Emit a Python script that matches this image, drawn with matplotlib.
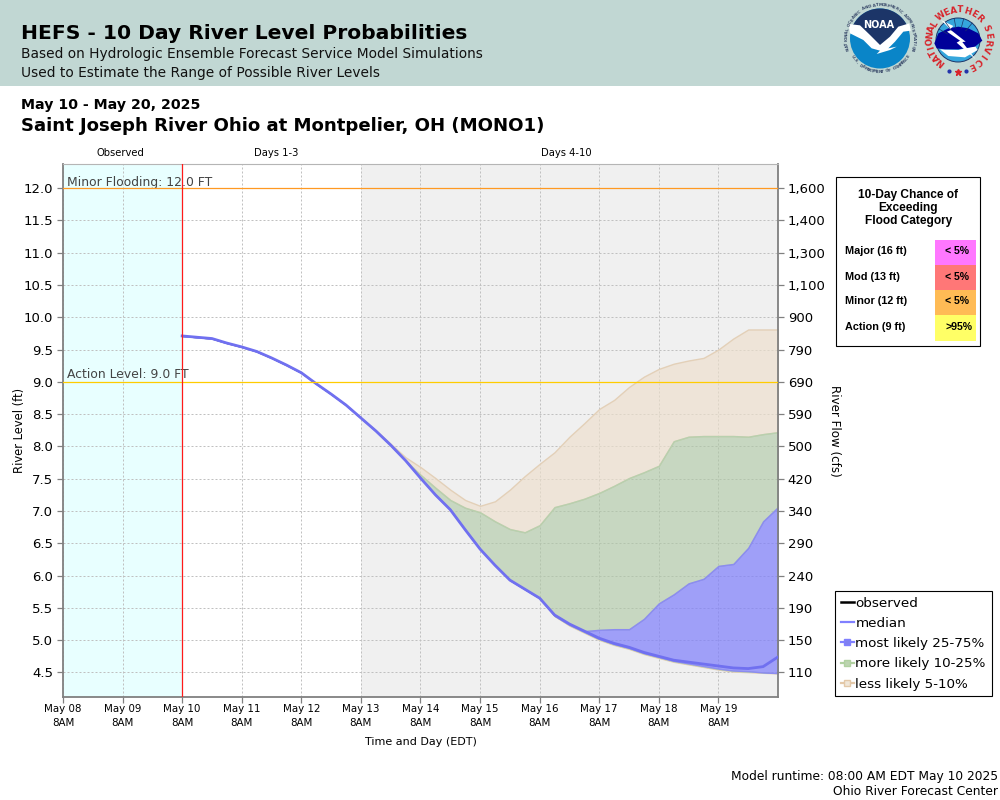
import numpy as np
import pandas as pd
import matplotlib
matplotlib.use('Agg')
import matplotlib.pyplot as plt
from matplotlib.lines import Line2D
from matplotlib.patches import Circle, Polygon, Rectangle, Wedge

# forecast levels in ft, every 6 hours from May 10 8AM
median = [9.71, 9.69, 9.67, 9.60, 9.54, 9.47, 9.37, 9.26, 9.14, 8.97, 8.81, 8.64, 8.44, 8.24,
          8.02, 7.78, 7.51, 7.25, 7.02, 6.71, 6.41, 6.16, 5.93, 5.79, 5.65, 5.39, 5.25, 5.14,
          5.03, 4.95, 4.89, 4.81, 4.75, 4.69, 4.66, 4.63, 4.60, 4.57, 4.56, 4.59, 4.74]
q75 = [9.71, 9.69, 9.67, 9.60, 9.54, 9.47, 9.37, 9.26, 9.14, 8.97, 8.81, 8.64, 8.44, 8.24,
       8.02, 7.78, 7.51, 7.25, 7.02, 6.71, 6.41, 6.16, 5.93, 5.79, 5.65, 5.39, 5.25, 5.14,
       5.16, 5.17, 5.17, 5.33, 5.57, 5.71, 5.88, 5.95, 6.15, 6.18, 6.43, 6.84, 7.06]
q25 = [9.71, 9.69, 9.67, 9.60, 9.54, 9.47, 9.37, 9.26, 9.14, 8.97, 8.81, 8.64, 8.44, 8.24,
       8.02, 7.78, 7.51, 7.25, 7.02, 6.71, 6.41, 6.16, 5.93, 5.79, 5.65, 5.38, 5.24, 5.13,
       5.02, 4.94, 4.88, 4.80, 4.74, 4.68, 4.64, 4.60, 4.56, 4.53, 4.52, 4.50, 4.49]
q90 = [9.71, 9.69, 9.67, 9.60, 9.54, 9.47, 9.37, 9.26, 9.14, 8.97, 8.81, 8.64, 8.44, 8.24,
       8.02, 7.78, 7.56, 7.36, 7.17, 7.05, 6.98, 6.84, 6.72, 6.67, 6.78, 7.06, 7.12, 7.19,
       7.28, 7.39, 7.51, 7.60, 7.70, 8.08, 8.15, 8.16, 8.16, 8.16, 8.15, 8.19, 8.22]
q95 = [9.71, 9.69, 9.67, 9.60, 9.54, 9.47, 9.37, 9.26, 9.14, 8.97, 8.81, 8.64, 8.44, 8.25,
       8.04, 7.83, 7.68, 7.51, 7.33, 7.17, 7.08, 7.15, 7.33, 7.54, 7.73, 7.91, 8.15, 8.36,
       8.58, 8.72, 8.92, 9.08, 9.20, 9.28, 9.33, 9.37, 9.50, 9.67, 9.81, 9.81, 9.81]
q10 = [9.71, 9.69, 9.67, 9.60, 9.54, 9.47, 9.37, 9.26, 9.14, 8.97, 8.81, 8.64, 8.44, 8.24,
       8.02, 7.78, 7.51, 7.25, 7.02, 6.71, 6.41, 6.16, 5.93, 5.79, 5.65, 5.37, 5.23, 5.12,
       5.01, 4.93, 4.87, 4.79, 4.73, 4.67, 4.63, 4.59, 4.55, 4.52, 4.51, 4.50, 4.49]
q05 = [9.71, 9.69, 9.67, 9.60, 9.54, 9.47, 9.37, 9.26, 9.14, 8.97, 8.81, 8.64, 8.44, 8.24,
       8.02, 7.78, 7.51, 7.25, 7.02, 6.71, 6.41, 6.16, 5.93, 5.79, 5.65, 5.37, 5.22, 5.11,
       5.00, 4.92, 4.86, 4.78, 4.72, 4.66, 4.62, 4.58, 4.54, 4.51, 4.50, 4.49, 4.48]

level_ticks = [12.0, 11.5, 11.0, 10.5, 10.0, 9.5, 9.0, 8.5, 8.0, 7.5, 7.0, 6.5, 6.0, 5.5, 5.0, 4.5]
flow_labels = ['1,600', '1,400', '1,300', '1,100', '900', '790', '690', '590',
               '500', '420', '340', '290', '240', '190', '150', '110']

categories = ['Major (16 ft)', 'Mod (13 ft)', 'Minor (12 ft)', 'Action (9 ft)']
chances = ['< 5%', '< 5%', '< 5%', '>95%']
category_colors = ['#ff77ff', '#ff7777', '#ffbb55', '#ffff66']

times = pd.date_range('2025-05-10 08:00', periods=41, freq='6h')
day_ticks = pd.date_range('2025-05-08 08:00', '2025-05-19 08:00', freq='1D')

fig = plt.figure(figsize=(10, 8), dpi=100, facecolor='white')

# overlay in pixel coordinates for the header and the side boxes
bg = fig.add_axes([0, 0, 1, 1], zorder=0)
bg.set_xlim(0, 1000)
bg.set_ylim(800, 0)
bg.axis('off')
bg.add_patch(Rectangle((0, 0), 1000, 85.5, fc='#c1d7d3', ec='none'))

bg.text(21, 33.5, 'HEFS - 10 Day River Level Probabilities', fontsize=14.6, fontweight='bold',
        color='black', va='center')
bg.text(21, 54, 'Based on Hydrologic Ensemble Forecast Service Model Simulations', fontsize=9.95,
        color='#111111', va='center')
bg.text(21, 73, 'Used to Estimate the Range of Possible River Levels', fontsize=9.95,
        color='#111111', va='center')
bg.text(21, 105, 'May 10 - May 20, 2025', fontsize=10.15, fontweight='bold', va='center')
bg.text(21, 126, 'Saint Joseph River Ohio at Montpelier, OH (MONO1)', fontsize=13.07, fontweight='bold',
        va='center')
bg.text(998, 776.5, 'Model runtime: 08:00 AM EDT May 10 2025', fontsize=8.8, ha='right', va='center')
bg.text(998, 791.5, 'Ohio River Forecast Center', fontsize=8.8, ha='right', va='center')


def ring_text(cx, cy, r, s, start, end, size, color, bottom=False):
    for a, ch in zip(np.linspace(start, end, len(s)), s):
        t = np.radians(a)
        bg.text(cx + r * np.cos(t), cy - r * np.sin(t), ch, fontsize=size, color=color, ha='center',
                va='center', rotation=a + 90 if bottom else a - 90, fontweight='bold')


def crop_pts(x0, pts):
    return [(x0 + x / 3, y / 3) for x, y in pts]


# NOAA logo
nx, ny = 880, 38.5
bg.add_patch(Circle((nx, ny), 30, fc='#0a85c8', ec='none'))
cap = np.radians(np.linspace(158, 22, 40))
cap_pts = list(zip(nx + 30 * np.cos(cap), ny - 30 * np.sin(cap))) + [(880, 46)]
bg.add_patch(Polygon(cap_pts, fc='#1c3568', ec='none'))
bg.add_patch(Polygon(crop_pts(840, [(26, 72), (60, 76), (90, 105), (120, 135), (150, 110), (175, 80),
                                    (208, 70), (212, 92), (190, 95), (165, 125), (145, 145), (170, 140),
                                    (150, 150), (110, 162), (120, 152), (95, 145), (70, 120), (30, 100)]),
                     fc='white', ec='none'))
bg.text(879, 25, 'NOAA', fontsize=7, color='white', fontweight='bold', ha='center', va='center')
ring_text(nx, ny, 33.5, 'NATIONAL OCEANIC AND ATMOSPHERIC ADMINISTRATION', 198, -19, 2.9, '#3a4a6a')
ring_text(nx, ny, 33.5, 'U.S. DEPARTMENT OF COMMERCE', 213, 327, 2.9, '#3a4a6a', bottom=True)

# NWS logo
wx, wy = 959, 39
bg.add_patch(Circle((958, 40), 22, fc='#35a6dc', ec='#1c3568', lw=0.7))
for a in [50, 75, 100, 125, 150]:
    t = np.radians(a)
    bg.plot([958 + 12 * np.cos(t), 958 + 22 * np.cos(t)], [40 - 12 * np.sin(t), 40 - 22 * np.sin(t)],
            color='#1c3568', lw=0.5)
bg.add_patch(Wedge((958, 40), 21, 200, 340, fc='#35a6dc', ec='none'))
bg.add_patch(Polygon(crop_pts(925, [(45, 148), (100, 150), (150, 138), (158, 150), (120, 172), (70, 168)]),
                     fc='white', ec='none'))
bg.add_patch(Polygon(crop_pts(925, [(28, 130), (40, 100), (70, 85), (100, 80), (130, 85), (160, 100),
                                    (172, 122), (150, 140), (100, 148), (60, 148), (35, 145)]),
                     fc='#000099', ec='none'))
bg.add_patch(Polygon(crop_pts(925, [(48, 60), (85, 78), (75, 88), (122, 125), (112, 126), (152, 178),
                                    (95, 128), (105, 122), (66, 95), (78, 90)]), fc='white', ec='none'))
ring_text(wx, wy, 29, 'NATIONAL', 231, 149, 6.3, '#d8232a')
ring_text(wx, wy, 29, 'WEATHER', 129, 45, 6.3, '#d8232a')
ring_text(wx, wy, 29, 'SERVICE', 22, -64, 6.3, '#d8232a')
bg.plot([949, 966], [71, 71], ls='none', marker='o', ms=2, color='#2233aa')
bg.plot([958], [72], ls='none', marker='*', ms=5, color='#d8232a')

# flood category box
bg.add_patch(Rectangle((836, 176.5), 144, 169, fc='white', ec='black', lw=0.8))
bg.text(908.5, 208, '10-Day Chance of\nExceeding\nFlood Category', fontsize=8.6, fontweight='bold',
        family='Liberation Sans', ha='center', va='center', linespacing=1.1)
for i, name in enumerate(categories):
    top = 240 + 25 * i
    bg.add_patch(Rectangle((935, top), 41, 25 if i < 3 else 26, fc=category_colors[i], ec='none'))
    bg.text(845, top + 11.5, name, fontsize=7.8, fontweight='bold', family='Liberation Sans', va='center')
    bg.text(945, top + 11.5, chances[i], fontsize=7.6, fontweight='bold', family='Liberation Sans', va='center')

# main chart
ax = fig.add_axes([63 / 1000, 1 - 697 / 800, 715 / 1000, 533 / 800], zorder=1)
x_start = pd.Timestamp('2025-05-08 08:00')
x_fcst = pd.Timestamp('2025-05-10 08:00')
x_gray = pd.Timestamp('2025-05-13 08:00')
x_end = pd.Timestamp('2025-05-20 08:00')
ax.set_xlim(x_start, x_end)
ax.set_ylim(4.12, 12.372)
ax.axvspan(x_start, x_fcst, fc='#e8ffff', ec='none', zorder=0)
ax.axvspan(x_gray, x_end, fc='#f0f0f0', ec='none', zorder=0)
ax.grid(True, color='#c0c0c0', ls=(0, (2, 2)), lw=0.72, zorder=1)
ax.set_axisbelow(True)

tan_edge = '#e3d0b8'
green_edge = '#b8d0ae'
blue_edge = '#8c8cf0'
ax.fill_between(times, q90, q95, fc=(0.93, 0.875, 0.80, 0.65), ec=tan_edge, lw=1, zorder=2)
ax.fill_between(times, q05, q10, fc=(0.93, 0.875, 0.80, 0.65), ec=tan_edge, lw=0.6, zorder=2)
ax.fill_between(times, q75, q90, fc=(0.68, 0.78, 0.64, 0.6), ec=green_edge, lw=1, zorder=2.1)
ax.fill_between(times, q10, q25, fc=(0.68, 0.78, 0.64, 0.6), ec=green_edge, lw=0.6, zorder=2.1)
ax.fill_between(times, q25, q75, fc=(0.49, 0.49, 0.99, 0.7), ec=blue_edge, lw=1, zorder=2.2)
ax.plot(times, median, color='#7070f0', lw=2.0, zorder=3)

ax.axhline(12.0, color='#ff9922', lw=0.9, zorder=3.5)
ax.axhline(9.0, color='#ffcc00', lw=0.9, zorder=3.5)
ax.axvline(x_fcst, color='#ff1a1a', lw=0.9, zorder=3.5)
ax.text(0.0055, 12.0 - 0.01, 'Minor Flooding: 12.0 FT', transform=ax.get_yaxis_transform(),
        fontsize=8.9, color='#444444', va='bottom', zorder=3)
ax.text(0.0055, 9.0 + 0.005, 'Action Level: 9.0 FT', transform=ax.get_yaxis_transform(),
        fontsize=8.9, color='#444444', va='bottom', zorder=3)

ax.set_xticks(day_ticks)
ax.set_xticklabels([d.strftime('%b %d') + '\n8AM' for d in day_ticks], fontsize=7.4, linespacing=1.55)
ax.set_yticks(level_ticks)
ax.set_yticklabels(['%.1f' % v for v in level_ticks], fontsize=9.5, va='center_baseline')
ax.tick_params(axis='y', length=4, width=0.9, color='#808080', pad=3)
ax.tick_params(axis='x', length=4, width=0.9, color='#808080', pad=1)
for side in ['left', 'right', 'bottom']:
    ax.spines[side].set_color('#808080')
    ax.spines[side].set_linewidth(1.3)
ax.spines['top'].set_color('#b5b5b5')
ax.set_xlabel('Time and Day (EDT)', fontsize=8, labelpad=6)
ax.set_ylabel('River Level (ft)', fontsize=8.3, labelpad=-1.5)

ax2 = ax.twinx()
ax2.set_ylim(ax.get_ylim())
ax2.set_yticks(level_ticks)
ax2.set_yticklabels(flow_labels, fontsize=9.5, va='center_baseline')
ax2.tick_params(axis='y', length=4, width=0.9, color='#808080', pad=3)
ax2.set_ylabel('River Flow (cfs)', fontsize=8.6, rotation=-90, labelpad=11)
for s in ax2.spines.values():
    s.set_visible(False)

bg.text(120, 153.5, 'Observed', fontsize=7.2, ha='center', va='center')
bg.text(276.5, 153.5, 'Days 1-3', fontsize=7.2, ha='center', va='center')
bg.text(566.5, 153.5, 'Days 4-10', fontsize=7.2, ha='center', va='center')

handles = [Line2D([], [], color='black', lw=1.8),
           Line2D([], [], color='#8080ff', lw=1.6),
           Line2D([], [], color='#8080ff', lw=1.6, marker='s', ms=5, mfc='#8080f0', mec='#8080ff'),
           Line2D([], [], color='#b0d0a0', lw=1.6, marker='s', ms=5, mfc='#bcd4b0', mec='#b0d0a0'),
           Line2D([], [], color='#e3c8a8', lw=1.6, marker='s', ms=5, mfc='#f0e6d8', mec='#e3c8a8')]
labels = ['observed', 'median', 'most likely 25-75%', 'more likely 10-25%', 'less likely 5-10%']
leg = fig.legend(handles, labels, loc='upper left', bbox_to_anchor=(835 / 1000, 1 - 591 / 800),
                 fontsize=9.7, frameon=True, fancybox=False, edgecolor='black', framealpha=1,
                 borderaxespad=0, borderpad=0.42, labelspacing=0.54, handlelength=1.0, handletextpad=0.1)
leg.get_frame().set_linewidth(0.8)

fig.savefig('out.png', dpi=100)
